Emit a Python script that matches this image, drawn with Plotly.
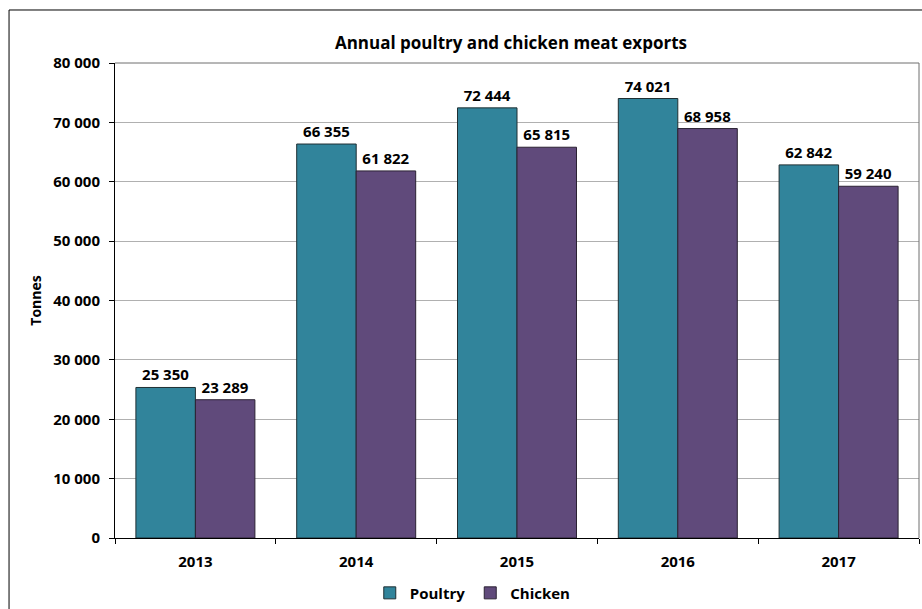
import plotly.graph_objects as go

years = ["2013", "2014", "2015", "2016", "2017"]
poultry = [25350, 66355, 72444, 74021, 62842]
chicken = [23289, 61822, 65815, 68958, 59240]
y_ticks = [0, 10000, 20000, 30000, 40000, 50000, 60000, 70000, 80000]

def fmt(v):
    return f"{v:,}".replace(",", " ")

FONT = "'Open Sans', Lato, sans-serif"

fig = go.Figure()
fig.add_trace(go.Bar(
    name="Poultry", x=years, y=poultry,
    marker=dict(color="#31849B", line=dict(color="#1f2f33", width=1)),
    text=[fmt(v) for v in poultry], textposition="outside",
    textfont=dict(family=FONT, size=15, color="#000000", weight="bold"),
    cliponaxis=False,
))
fig.add_trace(go.Bar(
    name="Chicken", x=years, y=chicken,
    marker=dict(color="#604A7B", line=dict(color="#2b2233", width=1)),
    text=[fmt(v) for v in chicken], textposition="outside",
    textfont=dict(family=FONT, size=15, color="#000000", weight="bold"),
    cliponaxis=False,
))

fig.update_layout(
    width=922, height=609,
    margin=dict(l=115, r=3, t=63, b=71, autoexpand=False),
    paper_bgcolor="white", plot_bgcolor="white",
    barmode="group", bargap=0.26, bargroupgap=0,
    separators=". ",
    font=dict(family=FONT, size=15, color="#000000"),
    title=dict(text="<b>Annual poultry and chicken meat exports</b>",
               x=0.4925, xref="paper", xanchor="center", y=0.929, yanchor="middle",
               font=dict(family=FONT, size=17, color="#000000")),
    legend=dict(orientation="h", x=0.445, xanchor="center", y=-0.116, yanchor="middle",
                font=dict(family=FONT, size=15, color="#000000", weight="bold"),
                itemwidth=30, traceorder="normal"),
)
fig.update_xaxes(
    type="category", showline=True, linecolor="#000000", linewidth=1,
    ticks="outside", tickson="boundaries", ticklen=5, tickcolor="#000000",
    ticklabelstandoff=10,
    tickfont=dict(family=FONT, size=15, color="#000000", weight="bold"),
    showgrid=False, automargin=False,
)
fig.update_yaxes(
    range=[0, 80000], tickvals=y_ticks, tickformat=",d",
    showline=True, linecolor="#000000", linewidth=1,
    ticks="outside", ticklen=5, tickcolor="#000000",
    ticklabelstandoff=6,
    showgrid=True, gridcolor="#B0B0B0", gridwidth=1,
    tickfont=dict(family=FONT, size=15, color="#000000", weight="bold"),
    title=dict(text="<b>Tonnes</b>", font=dict(family=FONT, size=14, color="#000000"), standoff=8),
    zeroline=False, automargin=False,
)
# plot-area top/right border
fig.add_shape(type="line", xref="paper", yref="paper", x0=0, x1=1, y0=1, y1=1,
              line=dict(color="#6e6e6e", width=1))
fig.add_shape(type="line", xref="paper", yref="paper", x0=1, x1=1, y0=0, y1=1,
              line=dict(color="#6e6e6e", width=1))
# outer chart border
fig.add_shape(type="rect", xref="paper", yref="paper", x0=-0.1318, x1=1.5, y0=-0.2, y1=1.1116,
              line=dict(color="#000000", width=1), layer="below")

fig.write_html("out.html")
